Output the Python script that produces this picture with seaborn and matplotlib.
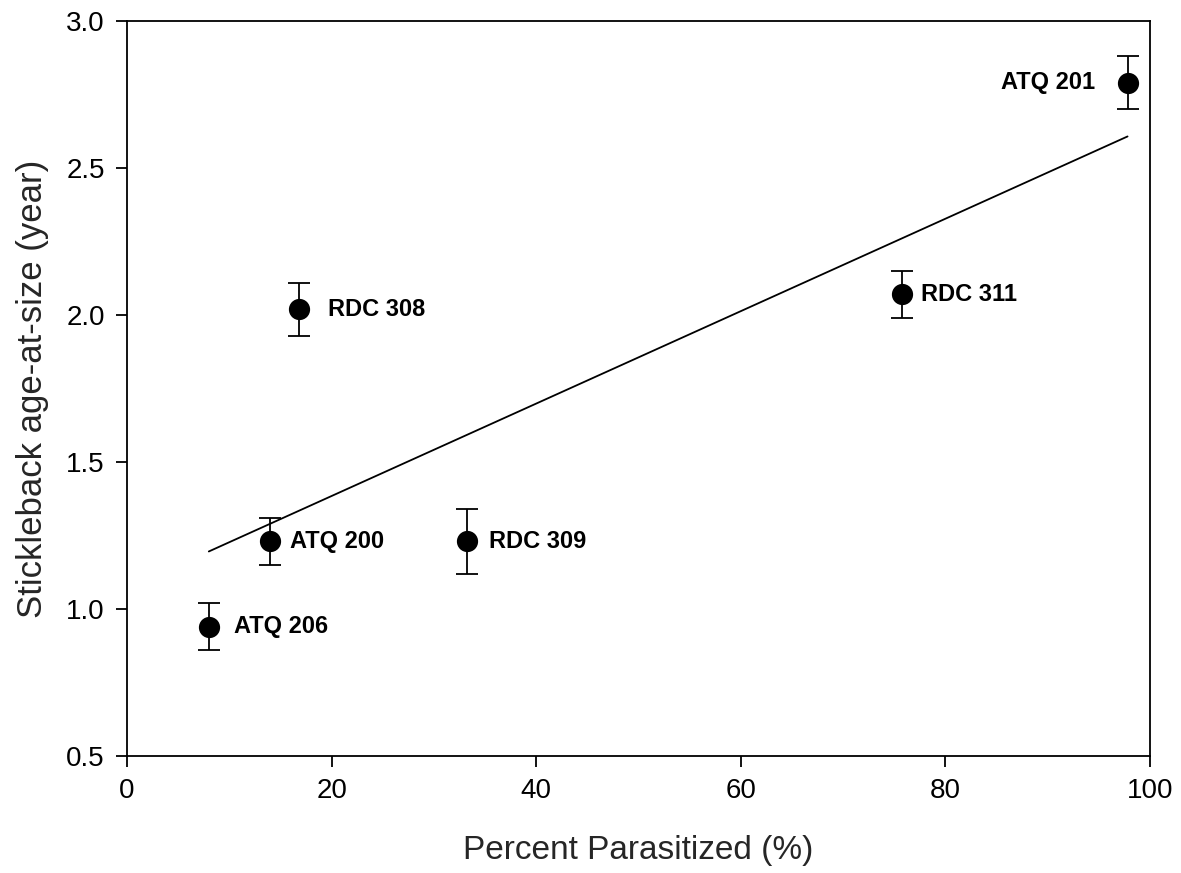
import matplotlib
matplotlib.use("Agg")
import matplotlib.pyplot as plt
import seaborn as sns
import numpy as np
import pandas as pd

sites = ["ATQ 206", "ATQ 200", "RDC 308", "RDC 309", "RDC 311", "ATQ 201"]
parasitized = [8.0, 14.0, 16.8, 33.2, 75.8, 97.8]
age_at_size = [0.94, 1.23, 2.02, 1.23, 2.07, 2.79]
age_err = [0.08, 0.08, 0.09, 0.11, 0.08, 0.09]
label_dx = [18, 14, 21, 16, 13, -23]  # points offsets
label_ha = ["left", "left", "left", "left", "left", "right"]

df = pd.DataFrame({"site": sites, "x": parasitized, "y": age_at_size, "err": age_err})

sns.set_theme(style="ticks")
plt.rcParams["font.family"] = ["Liberation Sans", "DejaVu Sans"]

fig = plt.figure(figsize=(11.81, 8.73), dpi=100)
ax = fig.add_axes([0.1075, 0.134, 0.8663, 0.842])

sns.regplot(data=df, x="x", y="y", ax=ax, scatter=False, ci=None, truncate=True,
            line_kws=dict(color="black", lw=1.3))
ax.errorbar(df["x"], df["y"], yerr=df["err"], fmt="none", ecolor="black",
            elinewidth=1.3, capsize=8, capthick=1.3, zorder=3)
sns.scatterplot(data=df, x="x", y="y", ax=ax, color="black", s=200,
                edgecolor="black", zorder=4, legend=False)

for s, x, y, dx, ha in zip(sites, parasitized, age_at_size, label_dx, label_ha):
    ax.annotate(s, (x, y), xytext=(dx, 0), textcoords="offset points",
                ha=ha, va="center", fontsize=17, fontweight="bold", color="black")

ax.set_xlim(0, 100)
ax.set_ylim(0.5, 3.0)
ax.set_xticks([0, 20, 40, 60, 80, 100])
ax.set_yticks([0.5, 1.0, 1.5, 2.0, 2.5, 3.0])
ax.set_yticklabels(["0.5", "1.0", "1.5", "2.0", "2.5", "3.0"])
ax.set_xlabel("Percent Parasitized (%)", fontsize=24, labelpad=22)
ax.set_ylabel("Stickleback age-at-size (year)", fontsize=25, labelpad=12)
ax.tick_params(axis="both", labelsize=20, direction="out", length=8, width=1.3,
               color="black", labelcolor="black", pad=8)
for sp in ax.spines.values():
    sp.set_visible(True)
    sp.set_color("black")
    sp.set_linewidth(1.3)

fig.savefig("out.png", dpi=100, facecolor="white")
